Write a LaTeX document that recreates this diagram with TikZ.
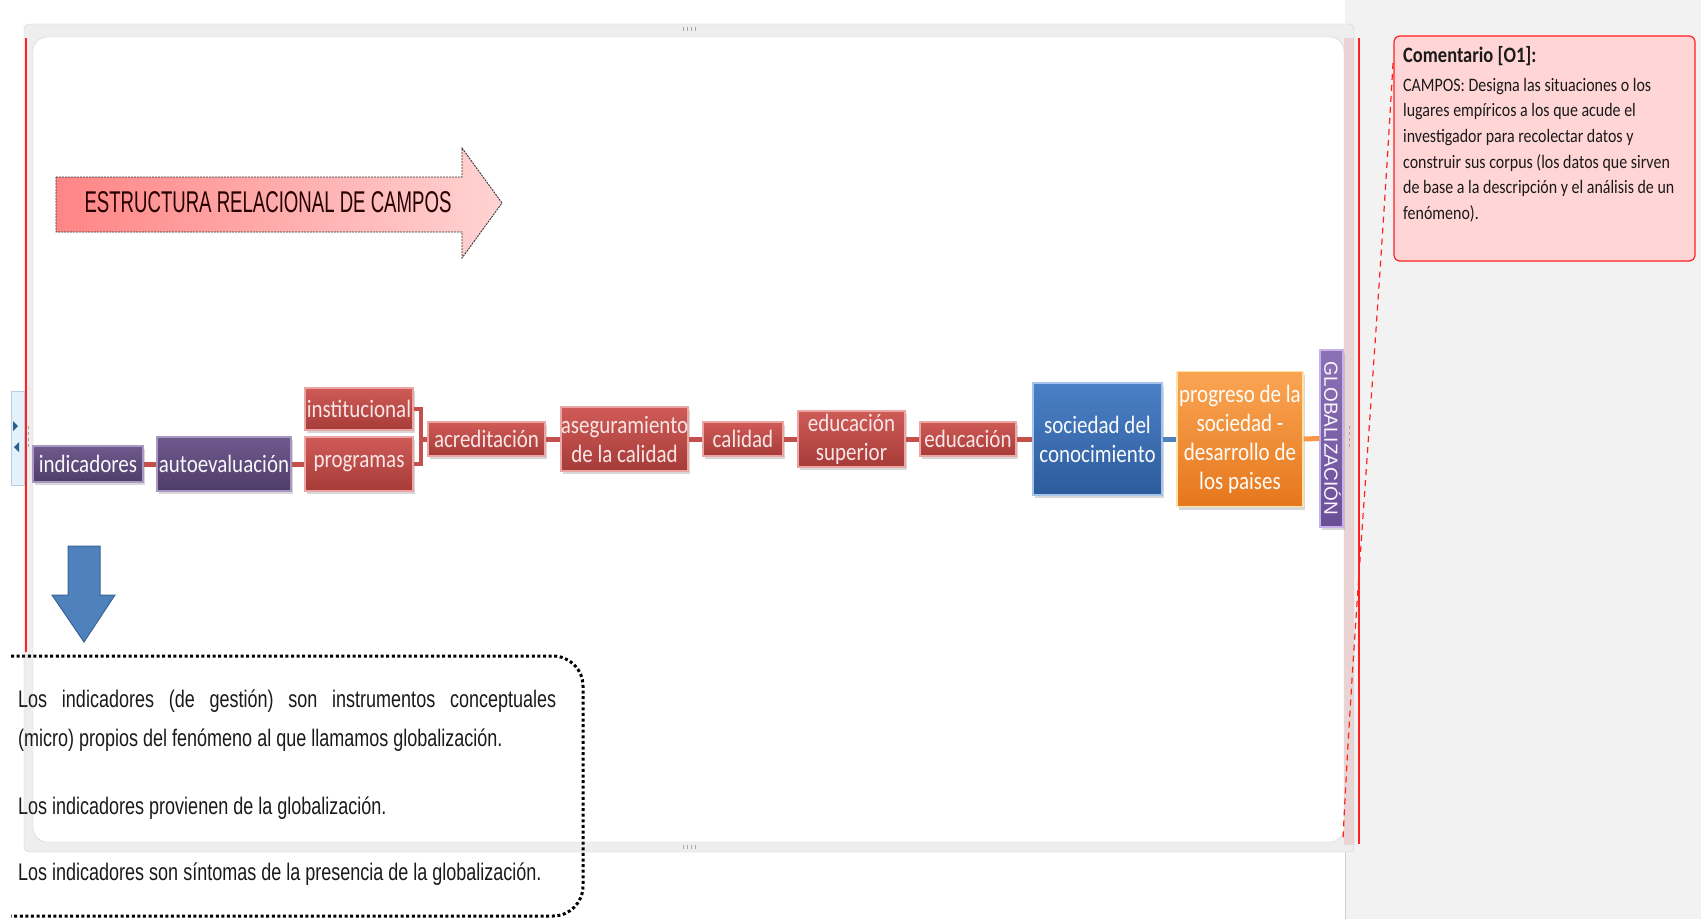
\documentclass[tikz,border=0pt]{standalone}
\usepackage{fontspec}
\setmainfont{Liberation Sans}
\newfontfamily\calfont{Carlito}[FakeStretch=0.84]
\newfontfamily\narrowfont{Liberation Sans}[FakeStretch=0.75]
\newfontfamily\titlefont{Liberation Sans}[FakeStretch=0.62]
\usetikzlibrary{shadows}
\definecolor{panel}{HTML}{F2F2F2}
\definecolor{framefill}{HTML}{EEEEEE}
\definecolor{framedraw}{HTML}{CFCFCF}
\definecolor{pinkstrip}{HTML}{EAD3D3}
\definecolor{rtop}{HTML}{CF5B57}
\definecolor{rbot}{HTML}{A63B38}
\definecolor{redge}{HTML}{EBA5A3}
\definecolor{rtext}{HTML}{F8E6E6}
\definecolor{ptop}{HTML}{6F5A8E}
\definecolor{pbot}{HTML}{4E3C68}
\definecolor{pedge}{HTML}{A898C2}
\definecolor{btop}{HTML}{4B80C6}
\definecolor{bbot}{HTML}{2D5C9C}
\definecolor{bedge}{HTML}{A5C4EC}
\definecolor{otop}{HTML}{FAA554}
\definecolor{obot}{HTML}{E5771D}
\definecolor{oedge}{HTML}{FFE3A6}
\definecolor{gtop}{HTML}{8B72B6}
\definecolor{gbot}{HTML}{6A4F97}
\definecolor{gedge}{HTML}{C6B1EA}
\definecolor{lnred}{HTML}{C4504D}
\definecolor{lnblue}{HTML}{4F81BD}
\definecolor{lnorange}{HTML}{F79646}
\definecolor{cmtfill}{HTML}{FFD5D5}
\definecolor{cmtred}{HTML}{FF2020}
\definecolor{arrowblue}{HTML}{4F81BD}
\definecolor{arrowblueedge}{HTML}{3A6496}
\definecolor{tleft}{HTML}{FF8585}
\definecolor{tright}{HTML}{FFD3D3}
\definecolor{tabfill}{HTML}{E4F1FA}
\definecolor{tabedge}{HTML}{B5D0E6}
\definecolor{tabtri}{HTML}{2C5F8F}
\definecolor{textdark}{HTML}{1A1A1A}
\tikzset{
  fbox/.style={inner sep=0pt, align=center, line width=1.5pt,
    font=\calfont\fontsize{25}{29}\selectfont,
    drop shadow={shadow xshift=2pt,shadow yshift=-3pt,opacity=0.3}},
  redbox/.style={fbox, top color=rtop, bottom color=rbot, draw=redge, text=rtext},
  purpbox/.style={fbox, top color=ptop, bottom color=pbot, draw=pedge, text=white!92!pedge},
  bluebox/.style={fbox, top color=btop, bottom color=bbot, draw=bedge, text=white!92!bedge},
  orbox/.style={fbox, top color=otop, bottom color=obot, draw=oedge, text=white!92!oedge},
  globbox/.style={fbox, top color=gtop, bottom color=gbot, draw=gedge},
  redline/.style={draw=lnred, line width=5pt},
  blueline/.style={draw=lnblue, line width=5pt},
  orline/.style={draw=lnorange, line width=5pt},
  bodytext/.style={anchor=base west, inner sep=0pt, text=textdark,
    font=\narrowfont\fontsize{24}{28}\selectfont},
  cmttext/.style={anchor=base west, inner sep=0pt, text=textdark,
    font=\calfont\fontsize{19}{22}\selectfont},
  grip/.style={draw=gray!70, line width=0.8pt}
}
\begin{document}
\begin{tikzpicture}[x=1pt,y=-1pt]
\useasboundingbox (0,0) rectangle (1701,919);
% backgrounds
\fill[white] (0,0) rectangle (1701,919);
\fill[panel] (1345,0) rectangle (1701,919);
\draw[framedraw] (1345,852) -- (1345,919);
% frame fill
\fill[framefill, rounded corners=5] (24,24) rectangle (1354,852);
\fill[pinkstrip] (1344,38) rectangle (1354,845);
\fill[white, rounded corners=14] (33,37) rectangle (1344,842);
% dotted text box
\draw[line width=3pt, dash pattern=on 3pt off 2.6pt, rounded corners=30]
  (11,656) -- (583,656) -- (583,916) -- (11,916);
\node[bodytext] (t1) at (18,707) {\makebox[538pt][s]{Los indicadores (de gestión) son instrumentos conceptuales}};
\node[bodytext] (t2) at (18,746) {(micro) propios del fenómeno al que llamamos globalización.};
\node[bodytext] (t3) at (18,814) {Los indicadores provienen de la globalización.};
\node[bodytext] (t4) at (18,880) {Los indicadores son síntomas de la presencia de la globalización.};
% frame outlines
\draw[framedraw, rounded corners=5] (24,24) rectangle (1354,852);
\draw[framedraw, rounded corners=14] (33,37) rectangle (1344,842);
\foreach \gx in {683,687,691,695} {
  \draw[grip] (\gx,27) -- (\gx,31);
  \draw[grip] (\gx,845) -- (\gx,849);
}
\foreach \gy in {426,432,438,444} {
  \draw[grip] (28,\gy) -- (28,\gy+3);
  \draw[grip] (1349,\gy) -- (1349,\gy+3);
}
% title arrow
\path[left color=tleft, right color=tright]
  (56,177) -- (462,177) -- (462,148) -- (502,203) -- (462,258) -- (462,232) -- (56,232) -- cycle;
\draw[gray!40!black, line width=0.9pt, dash pattern=on 2pt off 1pt]
  (56,177) -- (462,177) -- (462,148) -- (502,203) -- (462,258) -- (462,232) -- (56,232) -- cycle;
\node[anchor=base, inner sep=0pt, text=black!85!red, font=\titlefont\fontsize{30}{34}\selectfont]
  (title) at (268,212) {ESTRUCTURA RELACIONAL DE CAMPOS};
% boxes
\node[purpbox, minimum width=110pt, minimum height=36pt] (ind) at (88,464) {indicadores};
\node[purpbox, minimum width=134pt, minimum height=54pt] (auto) at (224,464) {autoevaluación};
\node[redbox, minimum width=108pt, minimum height=42pt] (inst) at (359,409) {institucional};
\node[redbox, minimum width=108pt, minimum height=54pt] (prog) at (359,464) {programas};
\node[redbox, minimum width=117pt, minimum height=34pt] (acred) at (486.5,439) {acreditación};
\node[redbox, minimum width=127pt, minimum height=64pt] (aseg) at (624.5,439) {aseguramiento\\de la calidad};
\node[redbox, minimum width=80pt, minimum height=34pt] (cal) at (743,439) {calidad};
\node[redbox, minimum width=107pt, minimum height=56pt] (edsup) at (851.5,439) {educación\\superior};
\node[redbox, minimum width=96pt, minimum height=34pt] (educ) at (968,439) {educación};
\node[bluebox, minimum width=129pt, minimum height=112pt] (soc) at (1097.5,439) {sociedad del\\conocimiento};
\node[orbox, minimum width=126pt, minimum height=135pt] (progr) at (1240,439) {progreso de la\\sociedad -\\desarrollo de\\los paises};
\node[globbox, minimum width=23pt, minimum height=177pt] (glob) at (1331.5,438.5) {};
\node[rotate=-90, inner sep=0pt, text=white!90!gedge, font=\fontsize{19}{22}\selectfont]
  (globt) at (1332.5,438.5) {GLOBALIZACIÓN};
% connectors
\coordinate (j) at (421,439);
\draw[redline] (ind.east) -- (auto.west);
\draw[redline] (auto.east) -- (prog.west);
\draw[redline, line width=4pt] (inst.east) -| (j);
\draw[redline, line width=4pt] (prog.east) -| (j);
\draw[redline] (j) -- (acred.west);
\draw[redline] (acred.east) -- (aseg.west);
\draw[redline] (aseg.east) -- (cal.west);
\draw[redline] (cal.east) -- (edsup.west);
\draw[redline] (edsup.east) -- (educ.west);
\draw[redline] (educ.east) -- (soc.west);
\draw[blueline] (soc.east) -- (progr.west);
\draw[orline] (progr.east) -- (glob.west);
% blue down arrow
\filldraw[fill=arrowblue, draw=arrowblueedge, line width=1pt]
  (68,546) -- (100,546) -- (100,595) -- (115,595) -- (84,642) -- (52,595) -- (68,595) -- cycle;
% left tab
\filldraw[fill=tabfill, draw=tabedge] (11,391) rectangle (24,485);
\fill[tabtri] (13,421) -- (18,426) -- (13,431) -- cycle;
\fill[tabtri] (19,442) -- (14,447) -- (19,452) -- cycle;
% red selection lines
\draw[cmtred, line width=1.2pt] (26,38) -- (26,652);
\draw[cmtred, line width=1.5pt] (1359,38) -- (1359,844);
% comment box
\node[draw=cmtred, fill=cmtfill, line width=1.2pt, rounded corners=6, minimum width=301pt,
  minimum height=225pt, inner sep=0pt] (cmt) at (1544.5,148.5) {};
\node[cmttext, font=\calfont\bfseries\fontsize{22}{24}\selectfont] (cmth) at (1403,62) {Comentario [O1]:};
\foreach \t [count=\i] in {CAMPOS: Designa las situaciones o los,
  lugares empíricos a los que acude el,
  investigador para recolectar datos y,
  construir sus corpus (los datos que sirven,
  de base a la descripción y el análisis de un,
  fenómeno).} {
  \node[cmttext] (cmtl\i) at (1403,{91+25.7*(\i-1)}) {\t};
}
\coordinate (c1) at (1393,63);
\coordinate (c2) at (1343,840);
\draw[cmtred, line width=1.2pt, dash pattern=on 6pt off 5pt] (c1) .. controls (1378,330) and (1352,640) .. (c2);
\end{tikzpicture}
\end{document}
